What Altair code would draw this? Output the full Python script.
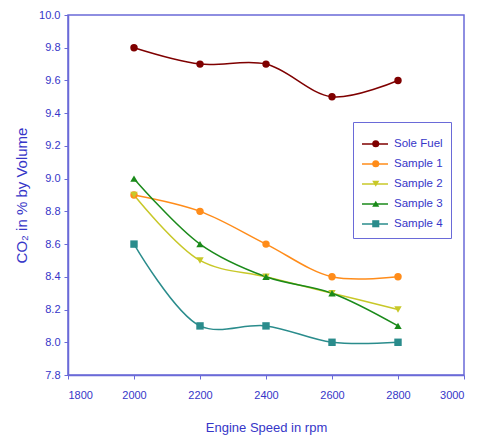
import altair as alt
import pandas as pd

speeds = [2000, 2200, 2400, 2600, 2800]
series = ["Sole Fuel", "Sample 1", "Sample 2", "Sample 3", "Sample 4"]
sole_fuel = [9.8, 9.7, 9.7, 9.5, 9.6]
sample1 = [8.9, 8.8, 8.6, 8.4, 8.4]
sample2 = [8.9, 8.5, 8.4, 8.3, 8.2]
sample3 = [9.0, 8.6, 8.4, 8.3, 8.1]
sample4 = [8.6, 8.1, 8.1, 8.0, 8.0]
y_ticks = [7.8, 8.0, 8.2, 8.4, 8.6, 8.8, 9.0, 9.2, 9.4, 9.6, 9.8, 10.0]
x_ticks = [1800, 2000, 2200, 2400, 2600, 2800, 3000]

colors = ["#7F0000", "#FF8C1A", "#C8C828", "#1A8A1A", "#2A8C8C"]
shapes = ["circle", "circle", "triangle-down", "triangle-up", "square"]
markers = [s + " " for s in series]

rows = []
for name, mk, vals in zip(series, markers, [sole_fuel, sample1, sample2, sample3, sample4]):
    for s, v in zip(speeds, vals):
        rows.append({"speed": s, "co2": v, "series": name, "marker": mk})
df = pd.DataFrame(rows)

TXT = "#3636C8"
AX = "#6A6AD8"

x = alt.X("speed:Q", scale=alt.Scale(domain=[1800, 3000], nice=False),
          axis=alt.Axis(title="Engine Speed in rpm", values=x_ticks, format="d",
                        titlePadding=21, labelPadding=10))
y = alt.Y("co2:Q", scale=alt.Scale(domain=[7.8, 10.0], nice=False, zero=False),
          axis=alt.Axis(title="CO₂ in % by Volume", values=y_ticks, format=".1f",
                        titlePadding=9, labelPadding=4, titleFontSize=15))

line_legend = alt.Legend(title=None, orient="none", legendX=285, legendY=107,
                         strokeColor=AX, padding=8, symbolSize=676, symbolType="stroke",
                         symbolStrokeWidth=1.5, labelColor=TXT, labelFontSize=11.5,
                         labelOffset=5, rowPadding=-2, fillColor="white", zindex=0)
marker_legend = alt.Legend(title=None, orient="none", legendX=294, legendY=115,
                           padding=8, symbolSize=50, symbolStrokeWidth=0,
                           labelExpr="''", labelFontSize=11.5,
                           labelOffset=5, rowPadding=7, symbolOpacity=1, zindex=1)

base = alt.Chart(df)
lines = base.mark_line(interpolate="catmull-rom", strokeWidth=1.5).encode(
    x=x, y=y,
    color=alt.Color("series:N", scale=alt.Scale(domain=series, range=colors), legend=line_legend))
points = base.mark_point(filled=True, size=55, opacity=1, strokeWidth=0).encode(
    x=x, y=y,
    fill=alt.Fill("marker:N", scale=alt.Scale(domain=markers, range=colors), legend=marker_legend),
    shape=alt.Shape("marker:N", scale=alt.Scale(domain=markers, range=shapes), legend=marker_legend))

chart = alt.layer(lines, points).properties(
    width=396, height=360,
    background="white",
    autosize=alt.AutoSizeParams(type="none"),
    padding={"left": 68, "top": 15, "right": 13, "bottom": 61},
).configure_view(stroke=AX, strokeWidth=1.5).configure_axis(
    grid=False, domainColor=AX, domainWidth=1.5, tickColor=AX, tickSize=4,
    labelColor=TXT, titleColor=TXT, labelFont="Liberation Sans", titleFont="Liberation Sans",
    labelFontSize=11, titleFontSize=13, titleFontWeight="normal",
).configure_legend(labelFont="Liberation Sans")

chart.save("out.html", embed_options={"renderer": "svg", "actions": False})
